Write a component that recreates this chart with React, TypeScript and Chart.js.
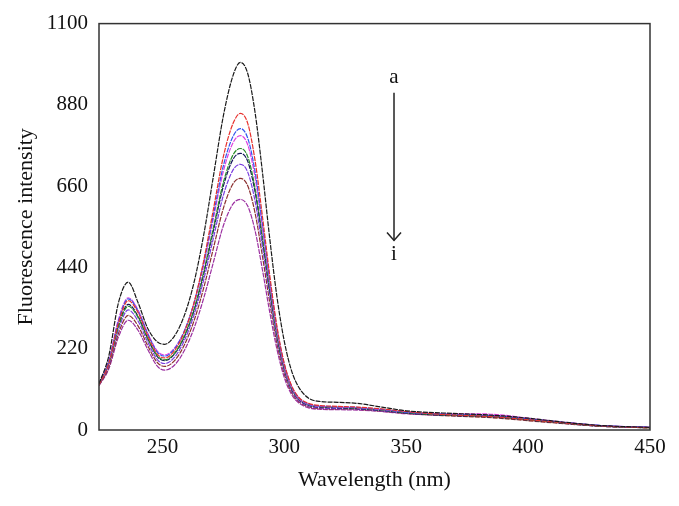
import React, { useEffect, useRef } from "react";
import { Chart, registerables } from "chart.js";

Chart.register(...registerables);

// Wavelength sample points (nm)
const wavelengths = [224, 228, 232, 236, 240, 244, 248, 251, 255, 259, 263, 267, 271, 275, 279, 282, 285, 288, 291, 294, 297, 300, 303, 306, 310, 315, 322, 330, 340, 350, 365, 380, 390, 400, 415, 430, 450];

const curveA = [125, 200, 345, 400, 345, 275, 238, 232, 255, 310, 400, 530, 690, 850, 960, 995, 965, 860, 700, 520, 360, 240, 160, 115, 86, 77, 75, 72, 62, 52, 46, 42, 38, 32, 21, 12, 7];
const curveB = [122, 180, 290, 350, 318, 255, 205, 195, 215, 265, 345, 460, 600, 740, 830, 857, 830, 730, 580, 420, 280, 180, 120, 88, 72, 66, 64, 62, 57, 50, 42, 38, 34, 28, 19, 11, 6];
const curveC = [124, 185, 295, 355, 322, 260, 210, 200, 220, 268, 345, 455, 585, 715, 795, 816, 790, 700, 560, 410, 275, 178, 118, 87, 70, 65, 63, 61, 56, 48, 43, 40, 36, 30, 20, 12, 7];
const curveD = [125, 188, 300, 358, 325, 262, 213, 203, 222, 268, 342, 448, 575, 700, 778, 797, 772, 685, 548, 400, 268, 172, 115, 85, 69, 64, 62, 60, 55, 49, 44, 44, 40, 32, 21, 12, 7];
const curveE = [123, 180, 280, 335, 305, 247, 200, 190, 208, 255, 328, 430, 550, 670, 745, 762, 740, 655, 525, 385, 258, 168, 112, 84, 68, 63, 61, 59, 54, 47, 41, 38, 34, 28, 19, 11, 6];
const curveF = [124, 182, 284, 340, 308, 248, 198, 188, 206, 252, 324, 424, 542, 660, 733, 749, 727, 645, 518, 380, 255, 166, 111, 83, 67, 62, 60, 58, 53, 46, 40, 37, 33, 27, 18, 10, 6];
const curveG = [122, 175, 272, 325, 295, 238, 190, 180, 197, 242, 312, 408, 522, 635, 704, 719, 698, 620, 498, 366, 246, 160, 107, 80, 65, 60, 58, 57, 52, 46, 41, 40, 37, 30, 20, 11, 7];
const curveH = [121, 170, 262, 310, 282, 228, 182, 172, 188, 230, 296, 386, 494, 600, 667, 681, 661, 588, 472, 347, 234, 152, 102, 77, 63, 58, 57, 56, 51, 45, 39, 35, 31, 25, 17, 10, 6];
const curveI = [120, 165, 252, 297, 270, 218, 172, 162, 176, 215, 276, 358, 456, 553, 612, 624, 606, 540, 435, 320, 218, 142, 96, 73, 60, 56, 55, 54, 50, 44, 40, 38, 35, 28, 19, 11, 7];

const seriesNames = ["a", "b", "c", "d", "e", "f", "g", "h", "i"];
const seriesValues = [curveA, curveB, curveC, curveD, curveE, curveF, curveG, curveH, curveI];
const seriesColors = ["#1a1a1a", "#e8312d", "#3355ee", "#e040e0", "#2a8a2a", "#14145a", "#7a3ee0", "#8b3030", "#9b2fa0"];

const xTicks = [250, 300, 350, 400, 450];
const yTicks = [0, 220, 440, 660, 880, 1100];

// Arrow annotation (data coordinates)
const arrowX = 345;
const arrowLabelTop = "a";
const arrowLabelBottom = "i";
const arrowTopValue = 913;
const arrowBottomValue = 513;
const labelTopValue = 955;
const labelBottomValue = 474;

const FONT = "'Liberation Serif', 'Times New Roman', serif";

const framePlugin = {
  id: "frameAndArrow",
  afterDatasetsDraw(chart: any) {
    const { ctx, chartArea: a, scales } = chart;
    ctx.save();
    ctx.strokeStyle = "#333";
    ctx.lineWidth = 1.5;
    ctx.strokeRect(a.left, a.top, a.right - a.left, a.bottom - a.top);

    const x = scales.x.getPixelForValue(arrowX);
    const yTop = scales.y.getPixelForValue(arrowTopValue);
    const yBot = scales.y.getPixelForValue(arrowBottomValue);
    ctx.strokeStyle = "#222";
    ctx.lineWidth = 1.5;
    ctx.beginPath();
    ctx.moveTo(x, yTop);
    ctx.lineTo(x, yBot);
    ctx.stroke();
    ctx.beginPath();
    ctx.moveTo(x - 7, yBot - 8);
    ctx.lineTo(x, yBot);
    ctx.lineTo(x + 7, yBot - 8);
    ctx.stroke();

    ctx.fillStyle = "#111";
    ctx.font = `21px ${FONT}`;
    ctx.textAlign = "center";
    ctx.textBaseline = "middle";
    ctx.fillText(arrowLabelTop, x, scales.y.getPixelForValue(labelTopValue));
    ctx.fillText(arrowLabelBottom, x, scales.y.getPixelForValue(labelBottomValue));
    ctx.restore();
  },
};

export default function App() {
  const canvasRef = useRef<HTMLCanvasElement | null>(null);

  useEffect(() => {
    if (!canvasRef.current) return;
    const datasets = seriesValues.map((vals, idx) => ({
      label: seriesNames[idx],
      data: wavelengths.map((w, j) => ({ x: w, y: vals[j] })),
      borderColor: seriesColors[idx],
      backgroundColor: seriesColors[idx],
      borderWidth: 1.2,
      borderDash: [5, 1],
      pointRadius: 0,
      fill: false,
      cubicInterpolationMode: "monotone" as const,
    }));

    const chart = new Chart(canvasRef.current, {
      type: "line",
      data: { datasets },
      plugins: [framePlugin],
      options: {
        animation: false,
        responsive: true,
        maintainAspectRatio: false,
        layout: { padding: { top: 23, right: 29, left: 0, bottom: 0 } },
        plugins: { legend: { display: false }, tooltip: { enabled: false } },
        scales: {
          x: {
            type: "linear",
            min: 224,
            max: 450,
            grid: { display: false, drawTicks: false },
            border: { display: false },
            afterBuildTicks: (s: any) => {
              s.ticks = xTicks.map((v) => ({ value: v }));
            },
            afterFit: (s: any) => {
              s.height = 76;
            },
            ticks: {
              padding: 5,
              color: "#111",
              font: { family: FONT, size: 21 },
              maxRotation: 0,
              callback: (v: any) => String(v),
            },
            title: {
              display: true,
              text: "Wavelength (nm)",
              color: "#111",
              font: { family: FONT, size: 22 },
              padding: { top: 0, bottom: 13 },
            },
          },
          y: {
            type: "linear",
            min: 0,
            max: 1100,
            grid: { display: false, drawTicks: false },
            border: { display: false },
            afterBuildTicks: (s: any) => {
              s.ticks = yTicks.map((v) => ({ value: v }));
            },
            afterFit: (s: any) => {
              s.width = 99;
            },
            ticks: {
              padding: 11,
              color: "#111",
              font: { family: FONT, size: 21 },
              callback: (v: any) => String(v),
            },
            title: {
              display: true,
              text: "Fluorescence intensity",
              color: "#111",
              font: { family: FONT, size: 22 },
              padding: { top: 13, bottom: 0 },
            },
          },
        },
      },
    });
    return () => chart.destroy();
  }, []);

  return (
    <div style={{ position: "fixed", left: 0, top: 0, width: 679, height: 506, background: "#fff" }}>
      <canvas ref={canvasRef} />
    </div>
  );
}
